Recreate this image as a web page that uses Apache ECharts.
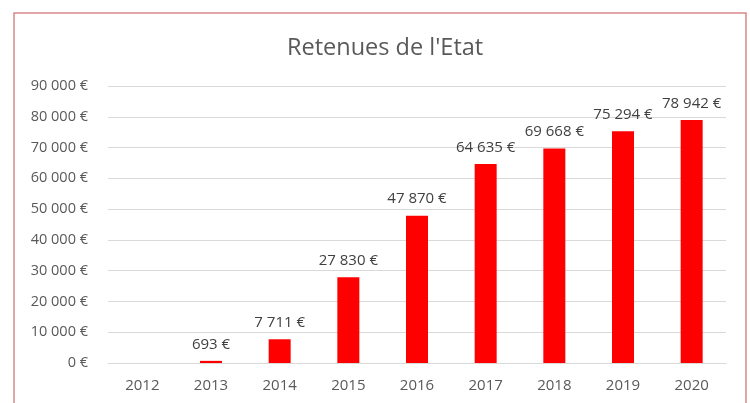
<!DOCTYPE html>
<html><head><meta charset="utf-8">
<script src="https://cdn.jsdelivr.net/npm/echarts@6/dist/echarts.min.js"></script>
<style>html,body{margin:0;padding:0;background:#fff}#c{width:750px;height:403px}</style>
</head><body><div id="c"></div>
<script>
const categories = ['2012','2013','2014','2015','2016','2017','2018','2019','2020'];
const values = [null, 693, 7711, 27830, 47870, 64635, 69668, 75294, 78942];
const titleText = "Retenues de l'Etat";

function fmt(v){
  return String(Math.round(v)).replace(/\B(?=(\d{3})+(?!\d))/g, ' ') + ' €';
}
const chart = echarts.init(document.getElementById('c'));
chart.setOption({
  animation: false,
  backgroundColor: '#fff',
  title: {text: titleText, left: 282, top: 31,
    textStyle: {fontFamily: 'Open Sans', fontSize: 23.5, fontWeight: 'normal', color: '#595959'}},
  graphic: [{type: 'rect', shape: {x: 14, y: 13, width: 732, height: 400},
    style: {fill: 'none', stroke: '#d88a8a', lineWidth: 1.5}, z: 100}],
  grid: {left: 108, right: 24, top: 86, bottom: 40},
  xAxis: {type: 'category', data: categories,
    axisLine: {lineStyle: {color: '#d9d9d9'}}, axisTick: {show: false},
    axisLabel: {color: '#595959', fontFamily: 'Open Sans', fontSize: 15, margin: 15}},
  yAxis: {type: 'value', min: 0, max: 90000, interval: 10000,
    splitLine: {lineStyle: {color: '#d9d9d9'}},
    axisLine: {show: false}, axisTick: {show: false},
    axisLabel: {color: '#595959', fontFamily: 'Open Sans', fontSize: 14.5, margin: 20, formatter: fmt}},
  series: [{type: 'bar', data: values, barWidth: 22,
    itemStyle: {color: '#ff0000'},
    label: {show: true, position: 'top', distance: 9, color: '#404040',
      fontFamily: 'Open Sans', fontSize: 15, formatter: p => fmt(p.value)}}]
});
</script></body></html>
